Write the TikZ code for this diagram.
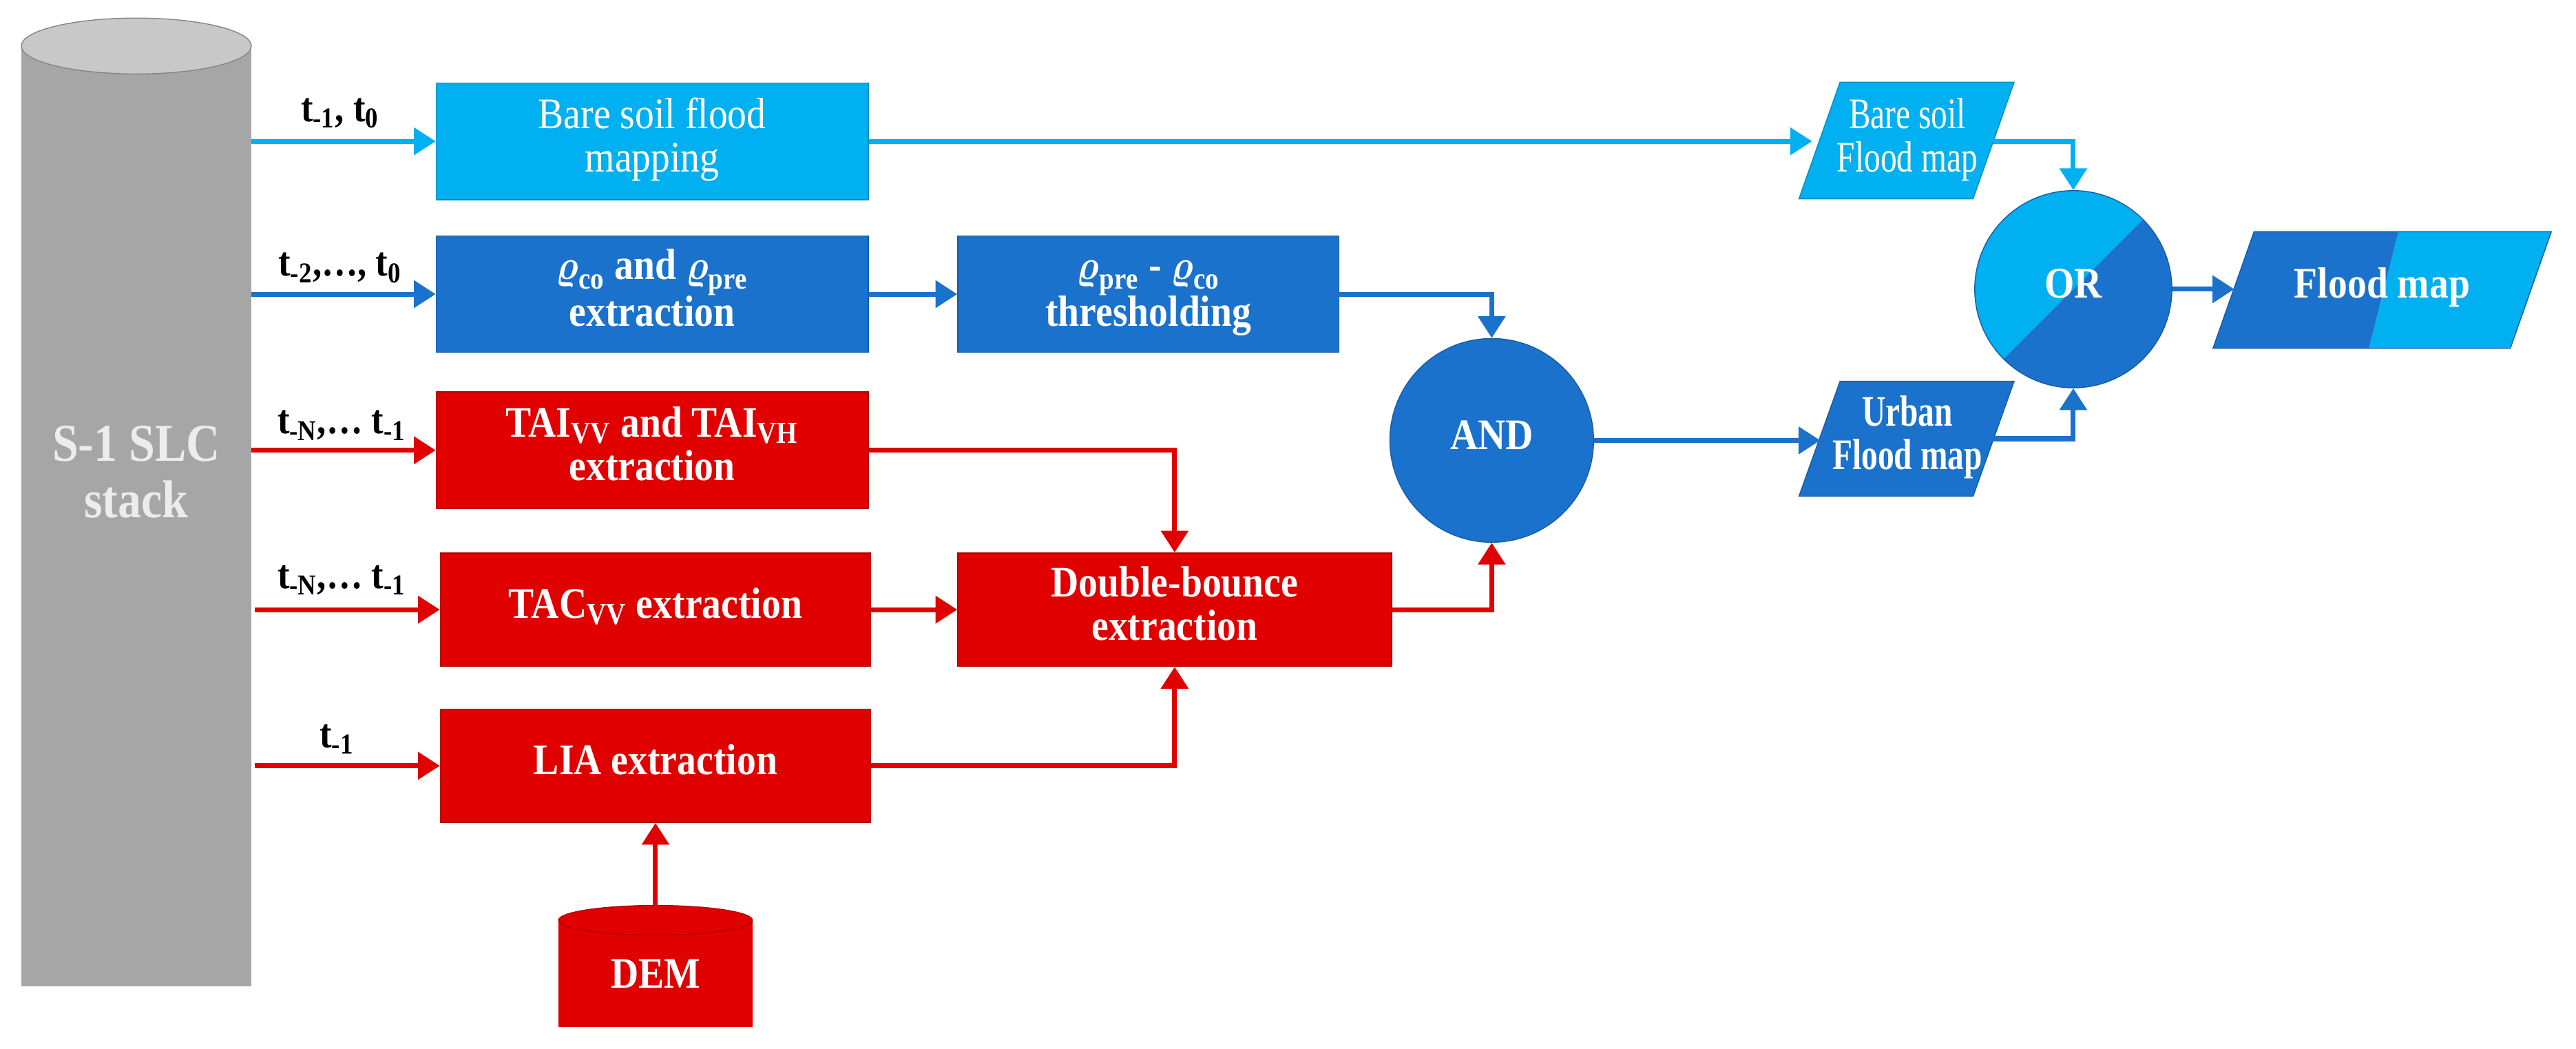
\documentclass[tikz,border=0pt]{standalone}
\usepackage{amsmath}
\usepackage{graphicx}
\usepackage{fontspec}
\setmainfont{Liberation Serif}
\usetikzlibrary{arrows.meta}
\definecolor{lb}{HTML}{00B0F0}
\definecolor{db}{HTML}{1B72CC}
\definecolor{rd}{HTML}{E00000}
\definecolor{gy}{HTML}{A6A6A6}
\definecolor{gyl}{HTML}{C8C8C8}
\newcommand{\rh}{\boldsymbol{\varrho}}
\newcommand{\cz}[2][0.88]{\scalebox{#1}[1]{\renewcommand{\arraystretch}{0.9}\setlength{\tabcolsep}{0pt}\begin{tabular}{c}#2\end{tabular}}}
\begin{document}
\begin{tikzpicture}[x=0.02386cm,y=-0.02386cm,
  txt/.style={text=white,font=\fontsize{18}{20}\selectfont\bfseries,align=center,inner sep=0pt},
  box/.style={txt,draw=#1!80!black,fill=#1,line width=0.4pt,inner sep=0pt},
  lbl/.style={font=\fontsize{17}{19}\selectfont\bfseries},
  con/.style={draw=#1,line width=2pt,-{Triangle[length=9pt,width=11pt]}}]
\useasboundingbox (0,0) rectangle (1568,638);
% S-1 stack cylinder
\fill[gy] (13,28) rectangle (153,600);
\draw[gy!80!black,fill=gyl,line width=0.4pt] (83,28) ellipse [x radius=70,y radius=17];
\node[txt,text=gray!15,font=\fontsize{22}{26}\selectfont\bfseries] (stack) at (83,291) {\cz{S-1 SLC\\stack}};
% DEM cylinder
\fill[rd] (340,560) rectangle (458,625);
\draw[rd!80!black,fill=rd,line width=0.4pt] (399,560) ellipse [x radius=59,y radius=9];
\node[txt] (dem) at (399,596) {\cz{DEM}};
% boxes
\node[box=lb,minimum width=263*0.02386cm,minimum height=71*0.02386cm,font=\fontsize{18}{20}\selectfont] (b1) at (397,86) {\cz{Bare soil flood\\mapping}};
\node[box=db,minimum width=263*0.02386cm,minimum height=71*0.02386cm] (b2) at (397,179) {\cz{$\rh_{\mathbf{co}}$ and $\rh_{\mathbf{pre}}$\\extraction}};
\node[box=db,minimum width=232*0.02386cm,minimum height=71*0.02386cm] (b2b) at (699,179) {\cz{$\rh_{\mathbf{pre}}$ - $\rh_{\mathbf{co}}$\\thresholding}};
\node[box=rd,minimum width=263*0.02386cm,minimum height=71*0.02386cm] (b3) at (397,274) {\cz{TAI\textsubscript{VV} and TAI\textsubscript{VH}\\extraction}};
\node[box=rd,minimum width=262*0.02386cm,minimum height=69*0.02386cm] (b4) at (399,371) {\cz{TAC\textsubscript{VV} extraction}};
\node[box=rd,minimum width=264*0.02386cm,minimum height=69*0.02386cm] (db) at (715,371) {\cz{Double-bounce\\extraction}};
\node[box=rd,minimum width=262*0.02386cm,minimum height=69*0.02386cm] (b5) at (399,466) {\cz{LIA extraction}};
% AND
\node[box=db,circle,minimum size=124*0.02386cm] (and) at (908,268) {\cz{AND}};
% OR split circle
\begin{scope}
\clip (1262,176) circle [radius=60];
\fill[lb] (1162,276) -- (1362,76) -- (1162,76) -- cycle;
\fill[db] (1162,276) -- (1362,76) -- (1362,276) -- cycle;
\end{scope}
\draw[db!80!black,line width=0.4pt] (1262,176) circle [radius=60];
\node[txt,circle,minimum size=120*0.02386cm] (or) at (1262,176) {\cz{OR}};
% parallelograms
\draw[lb!80!black,fill=lb,line width=0.4pt] (1120,50) -- (1226,50) -- (1201,121) -- (1095,121) -- cycle;
\node[txt,font=\fontsize{18}{20}\selectfont] (bm) at (1161,86) {\cz[0.75]{Bare soil\\Flood map}};
\draw[db!80!black,fill=db,line width=0.4pt] (1120,232) -- (1226,232) -- (1201,302) -- (1095,302) -- cycle;
\node[txt] (um) at (1161,267) {\cz[0.75]{Urban\\Flood map}};
\fill[db] (1372,141) -- (1460,141) -- (1442,212) -- (1347,212) -- cycle;
\fill[lb] (1460,141) -- (1553,141) -- (1528,212) -- (1442,212) -- cycle;
\draw[db!80!black,line width=0.4pt] (1372,141) -- (1553,141) -- (1528,212) -- (1347,212) -- cycle;
\node[txt] (fm) at (1450,176) {\cz{Flood map}};
% coordinates
\coordinate (s1) at (153,86); \coordinate (s2) at (153,179);
\coordinate (s3) at (153,274); \coordinate (s4) at (155,371); \coordinate (s5) at (155,466);
\coordinate (bmin) at (1103,86); \coordinate (bmout) at (1213,86);
\coordinate (umin) at (1108,268); \coordinate (umout) at (1189,267);
\coordinate (fmin) at (1360,176);
\coordinate (demtop) at (399,551);
% connectors
\draw[con=lb] (s1) -- (b1.west);
\draw[con=lb] (b1.east) -- (bmin);
\draw[con=lb] (bmout) -| (or.north);
\draw[con=db] (s2) -- (b2.west);
\draw[con=db] (b2.east) -- (b2b.west);
\draw[con=db] (b2b.east) -| (and.north);
\draw[con=db] (and.east) -- (umin);
\draw[con=db] (umout) -| (or.south);
\draw[con=db] (or.east) -- (fmin);
\draw[con=rd] (s3) -- (b3.west);
\draw[con=rd] (s4) -- (b4.west);
\draw[con=rd] (s5) -- (b5.west);
\draw[con=rd] (b3.east) -| (db.north);
\draw[con=rd] (b4.east) -- (db.west);
\draw[con=rd] (b5.east) -| (db.south);
\draw[con=rd] (db.east) -| (and.south);
\draw[con=rd] (demtop) -- (b5.south);
% labels
\node[lbl] (l1) at (207,69) {\cz{t\textsubscript{-1}, t\textsubscript{0}}};
\node[lbl] (l2) at (207,163) {\cz{t\textsubscript{-2},\dots, t\textsubscript{0}}};
\node[lbl] (l3) at (208,259) {\cz{t\textsubscript{-N},\dots\ t\textsubscript{-1}}};
\node[lbl] (l4) at (208,353) {\cz{t\textsubscript{-N},\dots\ t\textsubscript{-1}}};
\node[lbl] (l5) at (205,450) {\cz{t\textsubscript{-1}}};
\end{tikzpicture}
\end{document}
